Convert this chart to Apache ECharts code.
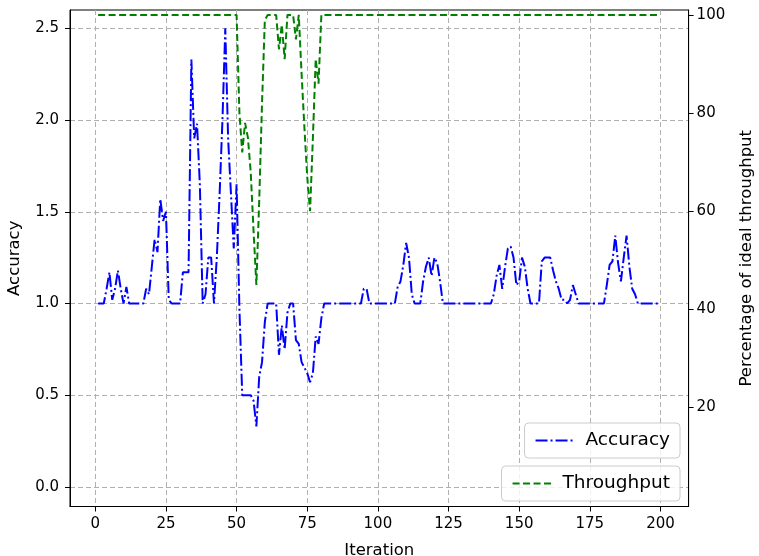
<!DOCTYPE html>
<html><head><meta charset="utf-8">
<script src="https://cdn.jsdelivr.net/npm/echarts@6/dist/echarts.min.js"></script>
<style>html,body{margin:0;padding:0;background:#fff}#c{width:759px;height:556px}</style>
</head><body><div id="c"></div>
<script>
const iterations = Array.from({length: 200}, (_, k) => k + 1);
const accuracy = [
  1.0, 1.0, 1.0, 1.08, 1.17, 1.02, 1.08, 1.18, 1.08, 1.0,
  1.09, 1.0, 1.0, 1.0, 1.0, 1.0, 1.0, 1.08, 1.05, 1.2,
  1.35, 1.28, 1.57, 1.45, 1.5, 1.02, 1.0, 1.0, 1.0, 1.0,
  1.17, 1.17, 1.17, 2.33, 1.9, 1.98, 1.65, 1.0, 1.05, 1.25,
  1.25, 1.0, 1.25, 1.6, 2.0, 2.5, 1.9, 1.6, 1.3, 1.65,
  0.97, 0.5, 0.5, 0.5, 0.5, 0.47, 0.33, 0.6, 0.68, 0.9,
  1.0, 1.0, 1.0, 1.0, 0.72, 0.88, 0.75, 0.95, 1.0, 1.0,
  0.8, 0.78, 0.68, 0.65, 0.62, 0.57, 0.62, 0.82, 0.78, 0.92,
  1.0, 1.0, 1.0, 1.0, 1.0, 1.0, 1.0, 1.0, 1.0, 1.0,
  1.0, 1.0, 1.0, 1.0, 1.08, 1.08, 1.0, 1.0, 1.0, 1.0,
  1.0, 1.0, 1.0, 1.0, 1.0, 1.0, 1.09, 1.12, 1.21, 1.33,
  1.25, 1.05, 1.0, 1.0, 1.0, 1.12, 1.2, 1.25, 1.15, 1.25,
  1.22, 1.12, 1.0, 1.0, 1.0, 1.0, 1.0, 1.0, 1.0, 1.0,
  1.0, 1.0, 1.0, 1.0, 1.0, 1.0, 1.0, 1.0, 1.0, 1.0,
  1.05, 1.15, 1.21, 1.08, 1.2, 1.3, 1.31, 1.25, 1.1, 1.12,
  1.25, 1.2, 1.08, 1.0, 1.0, 1.0, 1.0, 1.23, 1.25, 1.25,
  1.25, 1.18, 1.12, 1.08, 1.02, 1.02, 1.0, 1.02, 1.1, 1.05,
  1.0, 1.0, 1.0, 1.0, 1.0, 1.0, 1.0, 1.0, 1.0, 1.0,
  1.1, 1.21, 1.23, 1.37, 1.22, 1.12, 1.25, 1.37, 1.2, 1.08,
  1.05, 1.0, 1.0, 1.0, 1.0, 1.0, 1.0, 1.0, 1.0, 1.0
];
const throughput = [
  100, 100, 100, 100, 100, 100, 100, 100, 100, 100,
  100, 100, 100, 100, 100, 100, 100, 100, 100, 100,
  100, 100, 100, 100, 100, 100, 100, 100, 100, 100,
  100, 100, 100, 100, 100, 100, 100, 100, 100, 100,
  100, 100, 100, 100, 100, 100, 100, 100, 100, 100,
  80, 72, 78, 75, 68, 56, 45, 62, 82, 99,
  100, 100, 100, 100, 93, 98, 91, 100, 100, 100,
  95, 100, 88, 77, 67, 60, 75, 91, 86, 100,
  100, 100, 100, 100, 100, 100, 100, 100, 100, 100,
  100, 100, 100, 100, 100, 100, 100, 100, 100, 100,
  100, 100, 100, 100, 100, 100, 100, 100, 100, 100,
  100, 100, 100, 100, 100, 100, 100, 100, 100, 100,
  100, 100, 100, 100, 100, 100, 100, 100, 100, 100,
  100, 100, 100, 100, 100, 100, 100, 100, 100, 100,
  100, 100, 100, 100, 100, 100, 100, 100, 100, 100,
  100, 100, 100, 100, 100, 100, 100, 100, 100, 100,
  100, 100, 100, 100, 100, 100, 100, 100, 100, 100,
  100, 100, 100, 100, 100, 100, 100, 100, 100, 100,
  100, 100, 100, 100, 100, 100, 100, 100, 100, 100,
  100, 100, 100, 100, 100, 100, 100, 100, 100, 100
];
const xTicks = [0, 25, 50, 75, 100, 125, 150, 175, 200];
const accTicks = [0, 0.5, 1.0, 1.5, 2.0, 2.5];
const thrTicks = [20, 40, 60, 80, 100];

const FONT = 'DejaVu Sans';
const chart = echarts.init(document.getElementById('c'), null, {renderer: 'canvas'});
const legendBase = {
  right: 79, itemWidth: 40, itemHeight: 14,
  padding: [8, 10, 8, 10],
  borderColor: '#cccccc', borderWidth: 1, borderRadius: 4,
  backgroundColor: 'rgba(255,255,255,0.8)',
  itemStyle: {opacity: 0, color: 'rgba(0,0,0,0)', borderWidth: 0},
  textStyle: {fontFamily: FONT, fontSize: 18.5, color: '#000', padding: [0, 0, 0, 5]}
};
chart.setOption({
  animation: false,
  backgroundColor: '#fff',
  grid: {left: 70, right: 70.4, top: 10, bottom: 49.5, show: true, containLabel: false, outerBoundsMode: 'none',
    borderColor: '#000', borderWidth: 1, backgroundColor: 'transparent'},
  legend: [
    Object.assign({}, legendBase, {data: ['Accuracy'], top: 423}),
    Object.assign({}, legendBase, {data: ['Throughput'], top: 466})
  ],
  xAxis: {
    type: 'value', min: -8.95, max: 209.95,
    name: 'Iteration', nameLocation: 'middle', nameGap: 36,
    nameTextStyle: {fontFamily: FONT, fontSize: 16.5, color: '#000'},
    axisLine: {show: true, onZero: false, lineStyle: {color: '#000', width: 1}},
    axisTick: {show: true, customValues: xTicks, length: 5, lineStyle: {color: '#000'}},
    axisLabel: {customValues: xTicks, fontFamily: FONT, fontSize: 15, color: '#000', margin: 10},
    splitLine: {show: true, lineStyle: {color: '#b0b0b0', type: [5, 3], width: 1}}
  },
  yAxis: [
    {
      type: 'value', min: -0.107, max: 2.6, position: 'left',
      name: 'Accuracy', nameLocation: 'middle', nameGap: 47, nameRotate: 90,
      nameTextStyle: {fontFamily: FONT, fontSize: 16.5, color: '#000'},
      axisLine: {show: true, onZero: false, lineStyle: {color: '#000', width: 1}},
      axisTick: {show: true, customValues: accTicks, length: 5, lineStyle: {color: '#000'}},
      axisLabel: {customValues: accTicks, fontFamily: FONT, fontSize: 15, color: '#000', margin: 11,
        formatter: v => v.toFixed(1)},
      splitLine: {show: true, lineStyle: {color: '#b0b0b0', type: [5, 3], width: 1}}
    },
    {
      type: 'value', min: -0.15, max: 101, position: 'right',
      name: 'Percentage of ideal throughput', nameLocation: 'middle', nameGap: 50, nameRotate: 90,
      nameTextStyle: {fontFamily: FONT, fontSize: 16.5, color: '#000'},
      axisLine: {show: true, onZero: false, lineStyle: {color: '#000', width: 1}},
      axisTick: {show: true, customValues: thrTicks, length: 5, lineStyle: {color: '#000'}},
      axisLabel: {customValues: thrTicks, fontFamily: FONT, fontSize: 15, color: '#000', margin: 8},
      splitLine: {show: false}
    }
  ],
  series: [
    {
      name: 'Accuracy', type: 'line', yAxisIndex: 0, symbol: 'none',
      data: iterations.map((x, k) => [x, accuracy[k]]),
      lineStyle: {color: '#0000ff', width: 2, type: [12, 3, 2, 3]},
      itemStyle: {color: '#0000ff'}
    },
    {
      name: 'Throughput', type: 'line', yAxisIndex: 1, symbol: 'none',
      data: iterations.map((x, k) => [x, throughput[k]]),
      lineStyle: {color: '#008000', width: 2, type: [7, 3.5]},
      itemStyle: {color: '#008000'}
    }
  ]
});
</script>
</body></html>
